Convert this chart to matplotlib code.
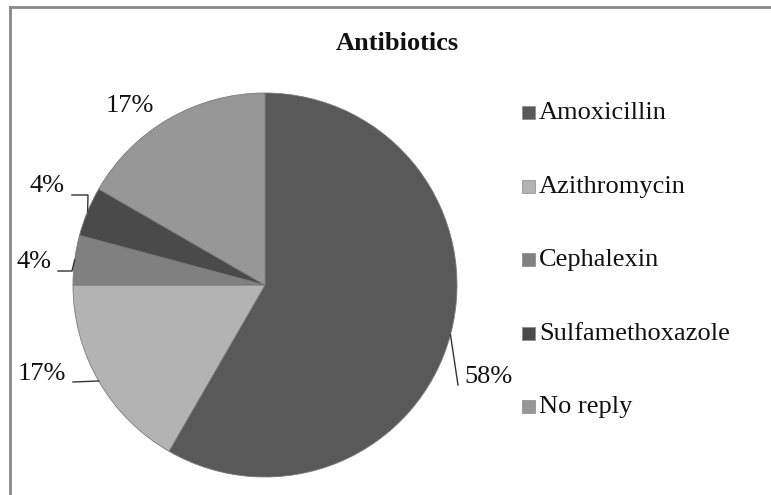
import matplotlib.pyplot as plt
import numpy as np
from matplotlib.patches import Rectangle
from matplotlib.lines import Line2D

# data (n = 24 replies)
drugs = ["Amoxicillin", "Azithromycin", "Cephalexin", "Sulfamethoxazole", "No reply"]
counts = [14, 4, 1, 1, 4]
pct_labels = ["58%", "17%", "4%", "4%", "17%"]
colors = ["#595959", "#b3b3b3", "#808080", "#4a4a4a", "#979797"]

plt.rcParams['font.family'] = ['Liberation Serif', 'DejaVu Serif']

W, H = 771, 495
fig = plt.figure(figsize=(W / 100, H / 100), dpi=100)

# pie centre / radius in pixels
cx, cy, R = 265, 285, 192
ax = fig.add_axes([(cx - R) / W, (H - cy - R) / H, 2 * R / W, 2 * R / H])
wedges, _ = ax.pie(counts, colors=colors, startangle=90, counterclock=False,
                   radius=1, wedgeprops=dict(edgecolor='#7a7a7a', linewidth=0.6))
ax.set_xlim(-1, 1)
ax.set_ylim(-1, 1)
ax.set_aspect('equal')
ax.axis('off')

def px(x, y):
    # pixel -> pie data coords
    return (x - cx) / R, (cy - y) / R

# label text centres and leader bends (pixels)
label_pos = [(488, 377), (42, 374), (34, 262), (47, 186), (130, 106)]
leader_pts = [[(458, 385)], [(73, 382)], [(72, 271), (58, 271)],
              [(88, 195), (72, 195)], []]

for w, lab, pos, pts in zip(wedges, pct_labels, label_pos, leader_pts):
    mid = np.deg2rad((w.theta1 + w.theta2) / 2)
    ax_x, ax_y = np.cos(mid), np.sin(mid)
    tx, ty = px(*pos)
    ax.text(tx, ty, lab, ha='center', va='center', fontsize=19, color='#111111',
            clip_on=False)
    if pts:
        xs = [ax_x] + [px(*p)[0] for p in pts]
        ys = [ax_y] + [px(*p)[1] for p in pts]
        ax.plot(xs, ys, color='#333333', lw=1.0, clip_on=False)

# title
fig.text(397 / W, 1 - 43 / H, "Antibiotics", ha='center', va='center',
         fontsize=19, fontweight='bold', color='#111111')

# legend
leg_y = [113, 187, 260, 334, 407]
for name, c, yy in zip(drugs, colors, leg_y):
    fig.patches.append(Rectangle((522 / W, 1 - (yy + 6) / H), 13 / W, 13 / H,
                                 transform=fig.transFigure, facecolor=c,
                                 edgecolor='#888888', linewidth=0.5))
    fig.text(539 / W, 1 - yy / H, name, ha='left', va='center',
             fontsize=19, color='#111111')

# chart frame (left and top edges visible)
fig.add_artist(Line2D([10 / W, 10 / W], [0, 1 - 7 / H], transform=fig.transFigure,
                      color='#888888', lw=2))
fig.add_artist(Line2D([10 / W, 1], [1 - 7 / H, 1 - 7 / H], transform=fig.transFigure,
                      color='#888888', lw=2))

fig.savefig("out.png", dpi=100, facecolor='white')
